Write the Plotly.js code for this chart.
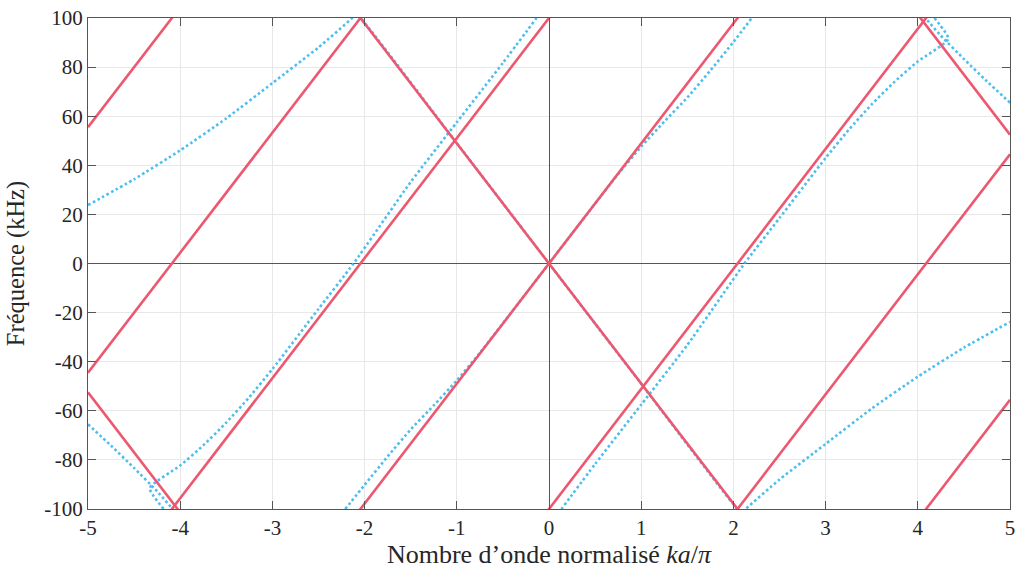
<!DOCTYPE html>
<html>
<head>
<meta charset="utf-8">
<script src="https://cdn.plot.ly/plotly-3.0.1.min.js"></script>
<style>
  html, body { margin: 0; padding: 0; background: #fff; }
  #chart { width: 1017px; height: 571px; }
</style>
</head>
<body>
<div id="chart"></div>
<script>
// ---------- data ----------
// Red (non-dispersive, folded harmonics): y = slope*x + intercept
const redSlope = 48.9;
const redPosIntercepts = [300, 200, 100, 0, -100, -200, -300];
const redNegIntercepts = [297, 0, -297];
const redX = [-5, 5];

// Blue dotted (dispersive) branches
const blueChainX = [-5, -4.5, -4, -3.5, -3, -2.5, -2.14, -2.1, -2.06, -1.02, 0, 1.02, 2.06, 2.1, 2.14, 2.5, 3, 3.5, 4, 4.5, 5];
const blueChainY = [23.8, 34.3, 46.1, 59.1, 73.5, 88.0, 99.8, 101.5, 100.7, 50, 0, -50, -100.7, -101.5, -99.8, -88.0, -73.5, -59.1, -46.1, -34.3, -23.8];

const blueCX = [-2.21, -2.0, -1.75, -1.5, -1.25, -1.0, -0.75, -0.5, -0.25, 0, 0.25, 0.5, 0.75, 1.0, 1.25, 1.5, 1.75, 2.0, 2.2];
const blueCY = [-100, -90.2, -78.6, -67.6, -57.8, -47.6, -36.4, -24.4, -12.2, 0, 12.2, 24.4, 36.4, 47.6, 57.8, 67.6, 78.6, 90.2, 100];

const blueDX = [-4.18, -4.33, -4.0, -3.75, -3.5, -3.25, -3.0, -2.5, -2.12, -1.5, -1.0, -0.5, -0.135];
const blueDY = [-100, -91.5, -82.3, -74.1, -64.8, -54.4, -43.0, -18.5, 0, 33.2, 57.5, 81.7, 100];

const blueD2X = [4.18, 4.33, 4.0, 3.75, 3.5, 3.25, 3.0, 2.5, 2.12, 1.5, 1.0, 0.5, 0.135];
const blueD2Y = [100, 91.5, 82.3, 74.1, 64.8, 54.4, 43.0, 18.5, 0, -33.2, -57.5, -81.7, -100];

const blueEX = [-5, -4.75, -4.5, -4.25, -4.07];
const blueEY = [-65.5, -74.2, -83.3, -92.8, -100.5];

const blueE2X = [5, 4.75, 4.5, 4.25, 4.07];
const blueE2Y = [65.5, 74.2, 83.3, 92.8, 100.5];

const xTickVals = [-5, -4, -3, -2, -1, 0, 1, 2, 3, 4, 5];
const xTickText = ["-5", "-4", "-3", "-2", "-1", "0", "1", "2", "3", "4", "5"];
const yTickVals = [-100, -80, -60, -40, -20, 0, 20, 40, 60, 80, 100];
const yTickText = ["-100", "-80", "-60", "-40", "-20", "0", "20", "40", "60", "80", "100"];

// ---------- styles ----------
const RED = "rgb(236, 88, 112)";
const BLUE = "rgb(77, 190, 238)";
const FONT = "Liberation Serif";

const traces = [];
const blueSets = [
  [blueChainX, blueChainY], [blueCX, blueCY], [blueDX, blueDY],
  [blueD2X, blueD2Y], [blueEX, blueEY], [blueE2X, blueE2Y]
];
blueSets.forEach(([x, y]) => traces.push({
  type: "scatter", mode: "lines", x: x, y: y, hoverinfo: "skip",
  line: { color: BLUE, width: 2.6, dash: "2.6px,2.6px", shape: "spline", smoothing: 0.5 },
  showlegend: false
}));
redPosIntercepts.forEach(b => traces.push({
  type: "scatter", mode: "lines", x: redX, y: redX.map(v => redSlope * v + b),
  line: { color: RED, width: 2.6 }, hoverinfo: "skip", showlegend: false
}));
redNegIntercepts.forEach(b => traces.push({
  type: "scatter", mode: "lines", x: redX, y: redX.map(v => -redSlope * v + b),
  line: { color: RED, width: 2.6 }, hoverinfo: "skip", showlegend: false
}));

function axis(range, vals, text, titleText, titleSize, standoff) {
  return {
    range: range, autorange: false, tickmode: "array", tickvals: vals, ticktext: text,
    showline: true, linecolor: "#555", linewidth: 1, mirror: "ticks",
    ticks: "inside", ticklen: 8, tickcolor: "#555", tickwidth: 1,
    showgrid: true, gridcolor: "#e8e8e8", gridwidth: 1,
    zeroline: true, zerolinecolor: "#555", zerolinewidth: 1,
    tickfont: { family: FONT, size: 21, color: "#262626" },
    title: { text: titleText, font: { family: FONT, size: titleSize, color: "#262626" }, standoff: standoff },
    fixedrange: true
  };
}

const layout = {
  width: 1017, height: 571,
  margin: { l: 88, r: 7, t: 18, b: 62 },
  paper_bgcolor: "#fff", plot_bgcolor: "#fff",
  showlegend: false,
  font: { family: FONT, size: 21, color: "#262626" },
  xaxis: axis([-5, 5], xTickVals, xTickText, "Nombre d\u2019onde normalisé <i>ka</i>/<i>\u03c0</i>", 26, 4),
  yaxis: axis([-100, 100], yTickVals, yTickText, "Fréquence (kHz)", 24.5, 12)
};

Plotly.newPlot("chart", traces, layout, { displayModeBar: false, staticPlot: true });
</script>
</body>
</html>
